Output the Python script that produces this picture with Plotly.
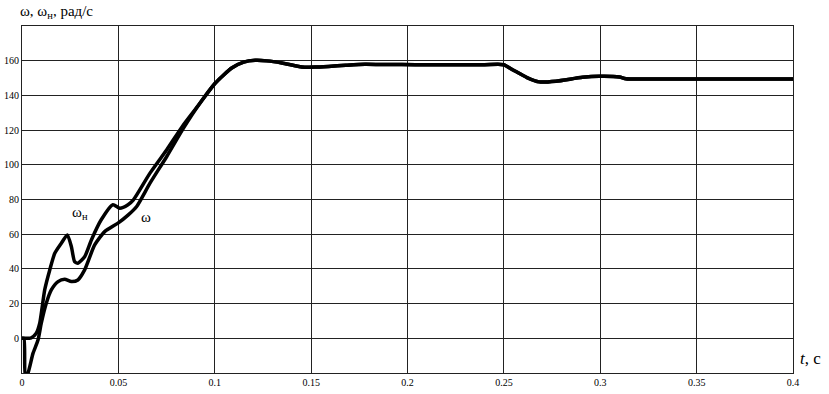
import plotly.graph_objects as go

# omega_n (load speed) early part, rad/s
wn_t = [0.0, 0.001, 0.0048, 0.0074, 0.0092, 0.0118, 0.0144, 0.017, 0.0204, 0.0235,
        0.0256, 0.0273, 0.029, 0.0325, 0.036, 0.0411, 0.0472, 0.0507, 0.055, 0.0578,
        0.0664, 0.0751, 0.0837]
wn_v = [0.0, 0.0, 0.3, 2.9, 8.7, 28.0, 39.4, 49.0, 54.8, 59.6,
        52.9, 44.2, 43.3, 47.0, 56.7, 68.3, 77.0, 75.0, 77.0, 79.8,
        95.2, 108.7, 123.0]

# omega (motor speed) early part, rad/s
w_t = [0.0, 0.001, 0.0017, 0.0028, 0.0057, 0.0083, 0.01, 0.0126, 0.0152, 0.0187,
       0.0221, 0.0256, 0.029, 0.0325, 0.0377, 0.0429, 0.0498, 0.055, 0.0595,
       0.0664, 0.0751, 0.0837]
w_v = [0.0, 0.0, -22.0, -21.0, -8.7, -1.0, 8.7, 20.2, 27.9, 32.7,
       34.0, 32.7, 33.6, 39.4, 53.8, 61.5, 66.4, 71.0, 76.0,
       89.4, 104.8, 121.0]

# common part (both curves coincide)
tail_t = [0.0924, 0.1002, 0.1088, 0.115, 0.121, 0.127, 0.1348, 0.1452, 0.152, 0.159,
          0.168, 0.178, 0.19, 0.204, 0.22, 0.24, 0.2498, 0.255, 0.262, 0.2684,
          0.277, 0.2908, 0.2995, 0.31, 0.3133, 0.33, 0.36, 0.4]
tail_v = [135.6, 147.0, 155.8, 159.2, 160.2, 159.9, 158.7, 156.4, 156.3, 156.7,
          157.4, 158.0, 157.8, 157.7, 157.7, 157.7, 157.7, 154.5, 150.3, 147.8,
          148.2, 150.4, 151.0, 150.6, 149.6, 149.5, 149.5, 149.5]

x_ticks = [0, 0.05, 0.1, 0.15, 0.2, 0.25, 0.3, 0.35, 0.4]
x_labels = ["0", "0.05", "0.1", "0.15", "0.2", "0.25", "0.3", "0.35", "0.4"]
y_ticks = [0, 20, 40, 60, 80, 100, 120, 140, 160]
y_labels = ["0", "20", "40", "60", "80", "100", "120", "140", "160"]

SERIF = "Liberation Serif, Times New Roman, serif"

fig = go.Figure()
line = dict(color="black", width=3.5, shape="spline", smoothing=0.6)
fig.add_trace(go.Scatter(x=wn_t + tail_t, y=wn_v + tail_v, mode="lines", line=line,
                         name="ωн", showlegend=False, hoverinfo="skip"))
fig.add_trace(go.Scatter(x=w_t + tail_t, y=w_v + tail_v, mode="lines", line=line,
                         name="ω", showlegend=False, hoverinfo="skip"))

tick_font = dict(family=SERIF, size=10, color="black")
fig.update_xaxes(range=[0, 0.4], tickvals=x_ticks, ticktext=x_labels, showgrid=True,
                 gridcolor="#222", gridwidth=1, showline=True, mirror=True,
                 linecolor="#222", linewidth=1, zeroline=False, ticks="",
                 tickfont=tick_font, automargin=False)
fig.update_yaxes(range=[-20, 180], tickvals=y_ticks, ticktext=y_labels, showgrid=True,
                 gridcolor="#222", gridwidth=1, showline=True, mirror=True,
                 linecolor="#222", linewidth=1, zeroline=False, ticks="",
                 tickfont=tick_font, automargin=False)

ann_font = dict(family=SERIF, size=15, color="black")
fig.add_annotation(x=0.030, y=72, text="ω<sub>н</sub>", showarrow=False, font=ann_font)
fig.add_annotation(x=0.0645, y=70, text="ω", showarrow=False, font=ann_font)
fig.add_annotation(xref="paper", yref="paper", x=-0.005, y=1.01, xanchor="left",
                   yanchor="bottom", text="ω, ω<sub>н</sub>, рад/с", showarrow=False,
                   font=ann_font)
fig.add_annotation(xref="paper", yref="paper", x=1.006, y=0.01, xanchor="left",
                   yanchor="bottom", text="<i>t</i>, с", showarrow=False,
                   font=dict(family=SERIF, size=17, color="black"))

fig.update_layout(width=829, height=394, margin=dict(l=22, r=36, t=26, b=21),
                  plot_bgcolor="white", paper_bgcolor="white")
# remove the browser's default 8px body margin so the figure fills the window
fig.write_html("out.html",
               config={"displayModeBar": False},
               post_script="document.body.style.margin='0';"
                           "document.body.style.overflow='hidden';")
